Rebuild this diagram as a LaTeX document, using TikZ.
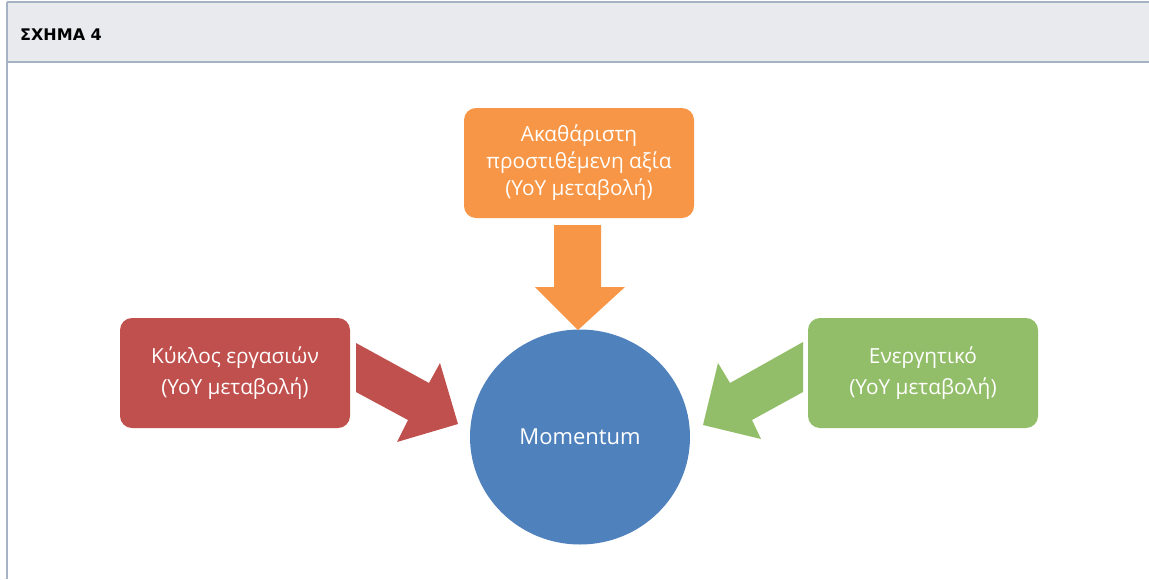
\documentclass[tikz,border=0pt]{standalone}
\usepackage{fontspec}
\setmainfont{Open Sans}
\newfontfamily\hdrfont{DejaVu Sans}
\usetikzlibrary{shapes.geometric}
\definecolor{hdrfill}{HTML}{E9EAEE}
\definecolor{hdrline}{HTML}{A5B3C4}
\definecolor{oorange}{HTML}{F79646}
\definecolor{ored}{HTML}{C0504D}
\definecolor{ogreen}{HTML}{93BE69}
\definecolor{oblue}{HTML}{4F81BD}
\tikzset{
  srcbox/.style={rounded corners=12pt, minimum width=230pt, minimum height=110pt, text=white, align=center, font=\fontsize{20.8}{27}\selectfont, inner sep=0pt},
  srcboxtwo/.style={srcbox, font=\fontsize{20.8}{31}\selectfont},
}
\begin{document}
\begin{tikzpicture}[x=1pt,y=-1pt]
\useasboundingbox (0,0) rectangle (1149,579);
\fill[white] (0,0) rectangle (1149,579);
% header
\fill[hdrfill] (7,2) rectangle (1149,62);
\draw[hdrline, line width=1.2pt] (7,2) -- (1149,2);
\draw[hdrline, line width=1.2pt] (7,62) -- (1149,62);
\draw[hdrline, line width=2pt] (7,2) -- (7,579);
\node[anchor=west, font=\hdrfont\bfseries\fontsize{16}{18}\selectfont, inner sep=0pt] (title) at (20,35) {ΣΧΗΜΑ 4};
% boxes
\node[srcbox, fill=oorange] (gva) at (579,163) {Ακαθάριστη\\προστιθέμενη αξία\\(YoY μεταβολή)};
\node[srcboxtwo, fill=ored] (turn) at (235,373) {Κύκλος εργασιών\\(YoY μεταβολή)};
\node[srcboxtwo, fill=ogreen] (assets) at (923,373) {Ενεργητικό\\(YoY μεταβολή)};
\node[ellipse, fill=oblue, minimum width=220pt, minimum height=215pt, text=white, font=\fontsize{22}{26}\selectfont, inner sep=0pt] (mom) at (580,437) {Momentum};
% block arrows
\fill[oorange] (554,225) -- (601,225) -- (601,287) -- (625,287) -- (578,330) -- (535,287) -- (554,287) -- cycle;
\fill[ored] (356,343) -- (429,383) -- (440,363) -- (458,424) -- (397,442) -- (408,420) -- (356,392) -- cycle;
\fill[ogreen] (803,342) -- (803,392) -- (752,420) -- (761,439) -- (703,425) -- (718,363) -- (730,383) -- cycle;
\end{tikzpicture}
\end{document}
